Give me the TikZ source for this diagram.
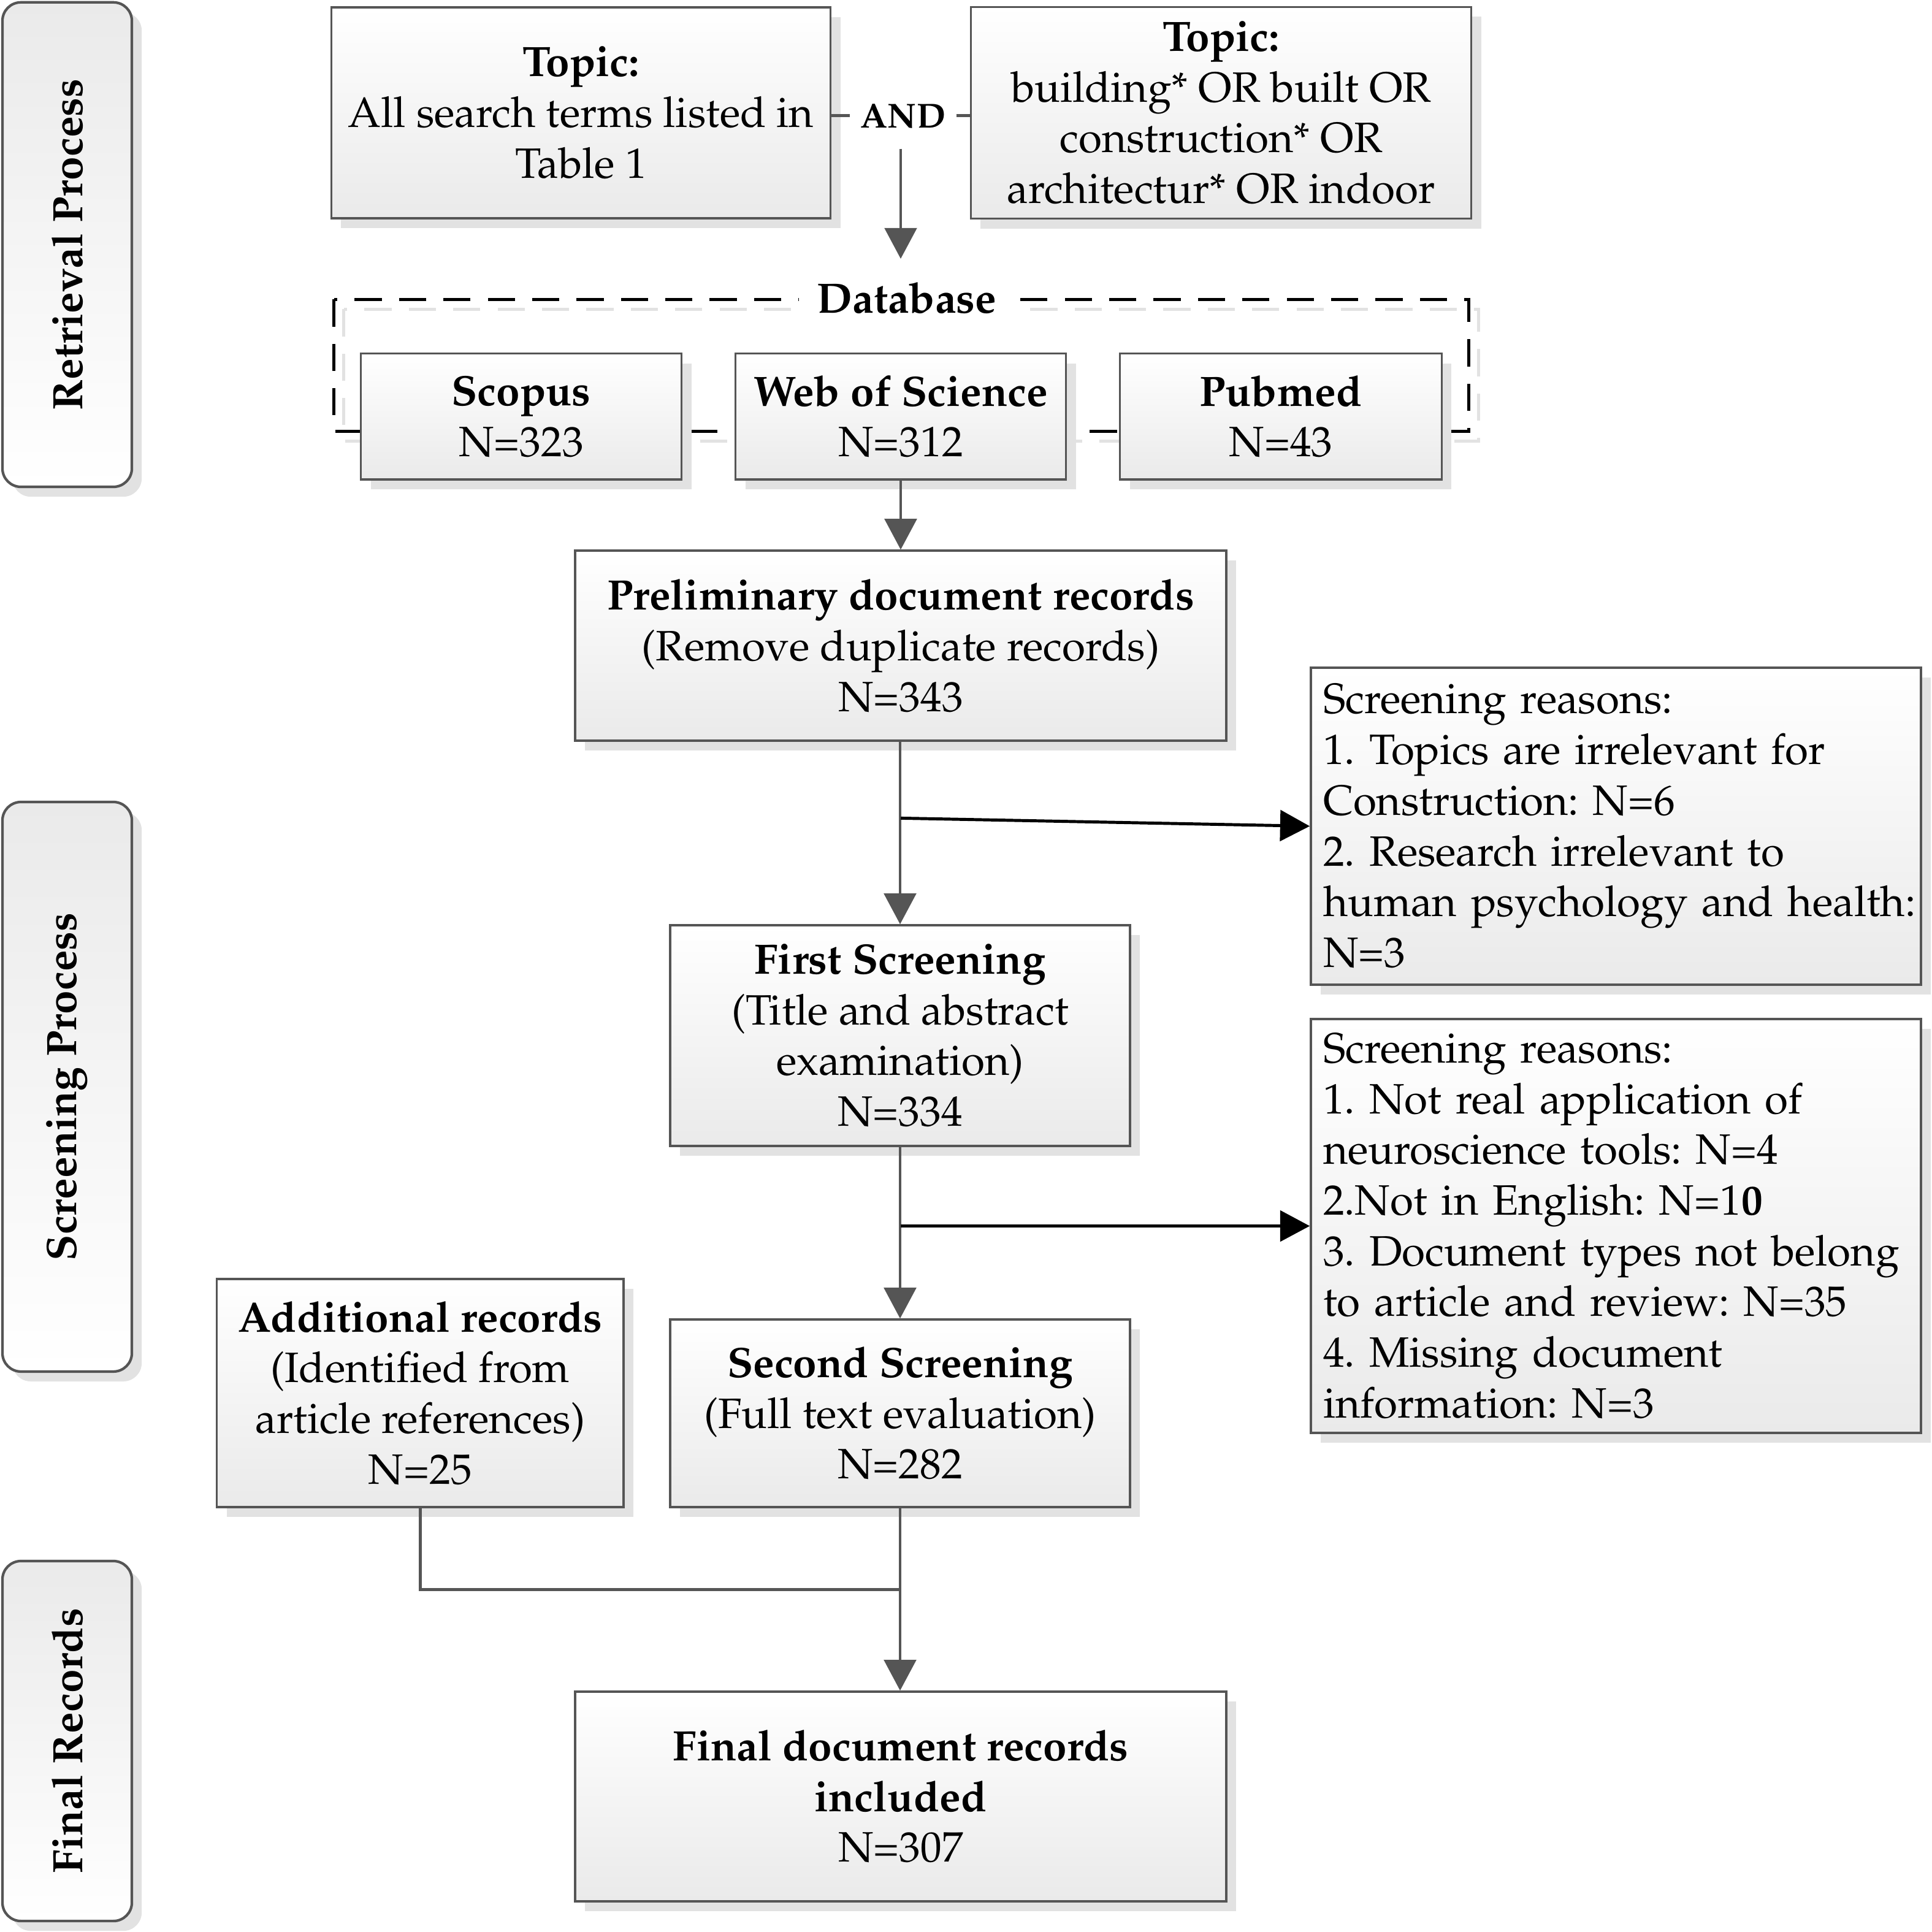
\documentclass[tikz,border=0pt]{standalone}
\usepackage[T1]{fontenc}
\usepackage{mathpazo}
\usetikzlibrary{arrows.meta,shadows}
\definecolor{lineg}{HTML}{555555}
\definecolor{shad}{HTML}{E2E2E2}
\definecolor{boxbot}{HTML}{EAEAEA}
\frenchspacing
\hbadness=10000 \hfuzz=20pt
\tikzset{
  txt/.style={font=\fontsize{9.8}{11.7}\selectfont},
  fbox/.style={txt, draw=lineg, line width=0.5pt, top color=white, bottom color=boxbot,
    align=center, drop shadow={shadow xshift=0.08cm, shadow yshift=-0.08cm, fill=shad, opacity=1}},
  rbox/.style={fbox, align=left, inner xsep=0.1cm, text width=4.75cm},
  sidebox/.style={draw=lineg, line width=0.6pt, rounded corners=0.15cm, top color=boxbot, bottom color=white,
    minimum width=1.05cm, drop shadow={shadow xshift=0.08cm, shadow yshift=-0.08cm, fill=shad, opacity=1}},
  sidetxt/.style={font=\fontsize{9.8}{11.7}\selectfont\bfseries, rotate=90},
  gline/.style={draw=lineg, line width=0.7pt},
  garrow/.style={gline, -{Triangle[length=0.25cm,width=0.26cm]}},
  barrow/.style={draw=black, line width=0.7pt, -{Triangle[length=0.24cm,width=0.25cm]}},
  dbline/.style={line width=0.8pt, dash pattern=on 0.22cm off 0.14cm}
}
\begin{document}
\begin{tikzpicture}[x=0.01cm,y=-0.01cm]
\useasboundingbox (0,0) rectangle (1568,1568);

% side boxes
\node[sidebox, minimum height=3.93cm] (side1) at (54.5,198.5) {};
\node[sidetxt] (side1t) at (side1.center) {Retrieval Process};
\node[sidebox, minimum height=4.62cm] (side2) at (54.5,882) {};
\node[sidetxt] (side2t) at (side2.center) {Screening Process};
\node[sidebox, minimum height=2.92cm] (side3) at (54.5,1413) {};
\node[sidetxt] (side3t) at (side3.center) {Final Records};

% topic boxes
\node[fbox, minimum width=4.05cm, minimum height=1.71cm] (t1) at (471.5,91.5)
  {\textbf{Topic:}\\All search terms listed in\\Table 1};
\node[fbox, minimum width=4.06cm, minimum height=1.71cm] (t2) at (991,91.5)
  {\textbf{Topic:}\\building* OR built OR\\construction* OR\\architectur* OR indoor};
\node[font=\fontsize{8}{9}\selectfont\bfseries, inner xsep=0.08cm, inner ysep=0.16cm] (and) at (733,94) {AND};
\draw[gline] (and.west -| t1.east) -- (and.west);
\draw[gline] (and.east) -- (and.east -| t2.west);
\coordinate (dbarr) at (731,210);
\draw[garrow] (dbarr |- and.south) -- (dbarr);

% database dashed frame
\draw[dbline, draw=shad] (279,251) rectangle (1200,358);
\draw[dbline, draw=black] (271,243) rectangle (1192,350);
\node[font=\fontsize{9.8}{11.7}\selectfont\bfseries, fill=white, inner xsep=0.15cm, inner ysep=0.05cm] (db) at (736,242) {Database};

\node[fbox, minimum width=2.60cm, minimum height=1.02cm] (scopus) at (423,338) {\textbf{Scopus}\\N=323};
\node[fbox, minimum width=2.68cm, minimum height=1.02cm] (wos) at (731,338) {\textbf{Web of Science}\\N=312};
\node[fbox, minimum width=2.61cm, minimum height=1.02cm] (pubmed) at (1039.5,338) {\textbf{Pubmed}\\N=43};

\node[fbox, minimum width=5.28cm, minimum height=1.54cm] (prelim) at (731,524)
  {\textbf{Preliminary document records}\\(Remove duplicate records)\\N=343};
\draw[garrow] (wos.south -| prelim.north) -- (prelim.north);

\node[rbox, minimum width=4.95cm, minimum height=2.57cm] (r1) at (1311.5,670.5)
  {Screening reasons:\\1. Topics are irrelevant for\\Construction: N=6\\2. Research irrelevant to\\\mbox{human psychology and health:}\\N=3};

\node[fbox, minimum width=3.73cm, minimum height=1.79cm] (first) at (730.5,840.5)
  {\textbf{First Screening}\\(Title and abstract\\examination)\\N=334};
\draw[garrow] (prelim.south -| first.north) -- (first.north);
\coordinate (b1) at (731,664);
\draw[barrow] (b1) -- (r1.west);

\node[rbox, minimum width=4.95cm, minimum height=3.34cm] (r2) at (1311.5,995)
  {Screening reasons:\\1. Not real application of\\neuroscience tools: N=4\\2.Not in English: N=1\textbf{0}\\\mbox{3. Document types not belong}\\to article and review: N=35\\4. Missing document\\information: N=3};

\node[fbox, minimum width=3.30cm, minimum height=1.85cm] (add) at (341,1130.5)
  {\textbf{Additional records}\\(Identified from\\article references)\\N=25};
\node[fbox, minimum width=3.73cm, minimum height=1.52cm] (second) at (730.5,1147)
  {\textbf{Second Screening}\\(Full text evaluation)\\N=282};
\draw[garrow] (first.south) -- (first.south |- second.north);
\coordinate (b2) at (731,995);
\draw[barrow] (b2) -- (r2.west);

\node[fbox, minimum width=5.28cm, minimum height=1.70cm] (final) at (731,1458)
  {\textbf{Final document records}\\\textbf{included}\\N=307};
\coordinate (j) at (731,1290);
\draw[gline] (add.south) |- (j);
\draw[garrow] (second.south) -- (second.south |- final.north);
\end{tikzpicture}
\end{document}
